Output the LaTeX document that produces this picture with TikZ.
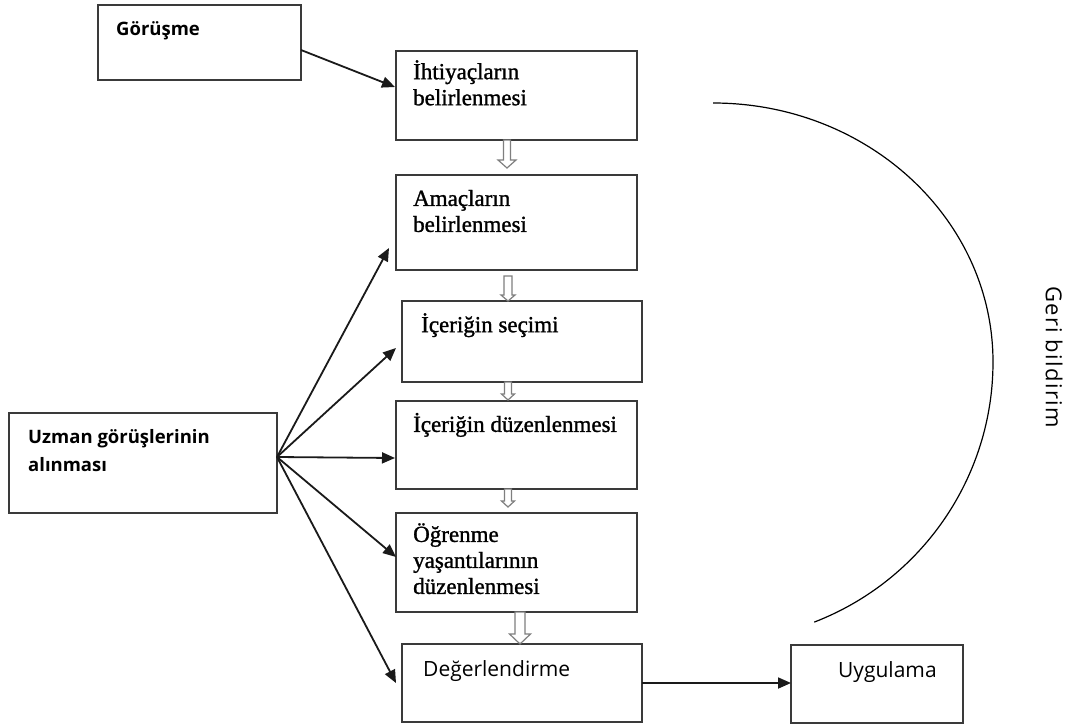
\documentclass[tikz,border=0pt]{standalone}
\usepackage{fontspec}
\setmainfont{Liberation Serif}
\newfontfamily\serifT[FakeBold=1.2]{Liberation Serif}
\newfontfamily\sansT{Open Sans}
\newfontfamily\geriT[LetterSpace=6]{Open Sans}
\usetikzlibrary{arrows.meta,calc}
\definecolor{boxgray}{HTML}{3A3A3A}
\definecolor{arrowblack}{HTML}{1A1A1A}
\definecolor{hollowgray}{HTML}{7F7F7F}
\tikzset{
  box/.style={draw=boxgray, line width=2pt, outer sep=0pt, inner sep=0pt, anchor=north west, fill=white},
  txt/.style={anchor=north west, inner sep=0pt, align=left, text=black},
  seriftxt/.style={txt, font=\serifT\fontsize{23}{26}\selectfont},
  sansbold/.style={txt, font=\sansT\bfseries\fontsize{18.5}{28.4}\selectfont},
  sansreg/.style={txt, font=\sansT\fontsize{21}{26}\selectfont},
  arr/.style={draw=arrowblack, line width=1.8pt, -{Triangle[length=13pt,width=11pt]}},
  hollow/.style={draw=hollowgray, line width=1.2pt, fill=white, line join=miter},
  pics/hollowdown/.style args={#1/#2/#3/#4}{code={
    \path[hollow] (-#2,0) -- (-#2,#1-#4) -- (-#3,#1-#4) -- (0,#1) -- (#3,#1-#4) -- (#2,#1-#4) -- (#2,0) -- cycle;
  }}
}
\newcommand{\topstrut}{\rule{0pt}{24pt}}
\begin{document}
\begin{tikzpicture}[x=1pt,y=-1pt]
\path[use as bounding box, fill=white] (0,0) rectangle (1074,726);

% boxes
\node[box, minimum width=203, minimum height=75] (gor) at (98,5) {};
\node[box, minimum width=241, minimum height=89] (iht) at (396,51) {};
\node[box, minimum width=241, minimum height=95] (ama) at (396,175) {};
\node[box, minimum width=240, minimum height=81] (sec) at (402,301) {};
\node[box, minimum width=241, minimum height=88] (duz) at (396,401) {};
\node[box, minimum width=241, minimum height=99] (ogr) at (396,513) {};
\node[box, minimum width=240, minimum height=78] (deg) at (402,644) {};
\node[box, minimum width=172, minimum height=78] (uyg) at (791,645) {};
\node[box, minimum width=268, minimum height=100] (uzm) at (9,413) {};

% texts
\node[sansbold] (gorT) at ([shift={(18,6)}]gor.north west) {\topstrut Görüşme};
\node[seriftxt] (ihtT) at ([shift={(17,4)}]iht.north west) {\topstrut İhtiyaçların\\belirlenmesi};
\node[seriftxt] (amaT) at ([shift={(17,6.7)}]ama.north west) {\topstrut Amaçların\\belirlenmesi};
\node[seriftxt] (secT) at ([shift={(19,7)}]sec.north west) {\topstrut İçeriğin seçimi};
\node[seriftxt] (duzT) at ([shift={(17,6.7)}]duz.north west) {\topstrut İçeriğin düzenlenmesi};
\node[seriftxt] (ogrT) at ([shift={(17,4.7)}]ogr.north west) {\topstrut Öğrenme\\yaşantılarının\\düzenlenmesi};
\node[sansreg] (degT) at ([shift={(21,8.7)}]deg.north west) {\topstrut Değerlendirme};
\node[sansreg] (uygT) at ([shift={(47,8.7)}]uyg.north west) {\topstrut Uygulama};
\node[sansbold] (uzmT) at ([shift={(19,6.3)}]uzm.north west) {\topstrut Uzman görüşlerinin\\alınması};
\node[rotate=-90, inner sep=0pt, font=\geriT\fontsize{22}{26}\selectfont] (geri) at (1054,357) {Geri bildirim};

% connectors
\draw[arr] ([yshift=-7.5pt]gor.east) -- ([xshift=-1pt,yshift=8.5pt]iht.west);
\coordinate (fan) at ([yshift=6pt]uzm.east);
\draw[arr] (fan) -- ([xshift=-7pt,yshift=-25.5pt]ama.west);
\draw[arr] (fan) -- ([xshift=-6pt,yshift=-6.5pt]sec.west);
\draw[arr] (fan) -- ([xshift=-1pt,yshift=-13pt]duz.west);
\draw[arr] (fan) -- ([yshift=5.5pt]ogr.west);
\draw[arr] (fan) -- ([xshift=-6pt]deg.west);
\draw[arr] (deg.east) -- (deg.east -| uyg.west);

% hollow block arrows
\pic at ([xshift=-9.5pt]iht.south) {hollowdown={28/3.5/9/8}};
\pic at ([xshift=-8.5pt,yshift=-6pt]ama.south) {hollowdown={25/4/7/6}};
\pic at ([xshift=-14pt]sec.south) {hollowdown={18/3.5/6.5/6}};
\pic at ([xshift=-8.5pt]duz.south) {hollowdown={18/3.5/6.5/6}};
\pic at ([xshift=3.5pt]ogr.south) {hollowdown={32/5/10.5/10}};

% feedback arc
\coordinate (arcS) at (713,103);
\draw[black, line width=1.2pt] (arcS) arc[start angle=-90, end angle=0, x radius=280, y radius=259]
  arc[start angle=0, end angle=68.8, x radius=280, y radius=279];
\end{tikzpicture}
\end{document}
